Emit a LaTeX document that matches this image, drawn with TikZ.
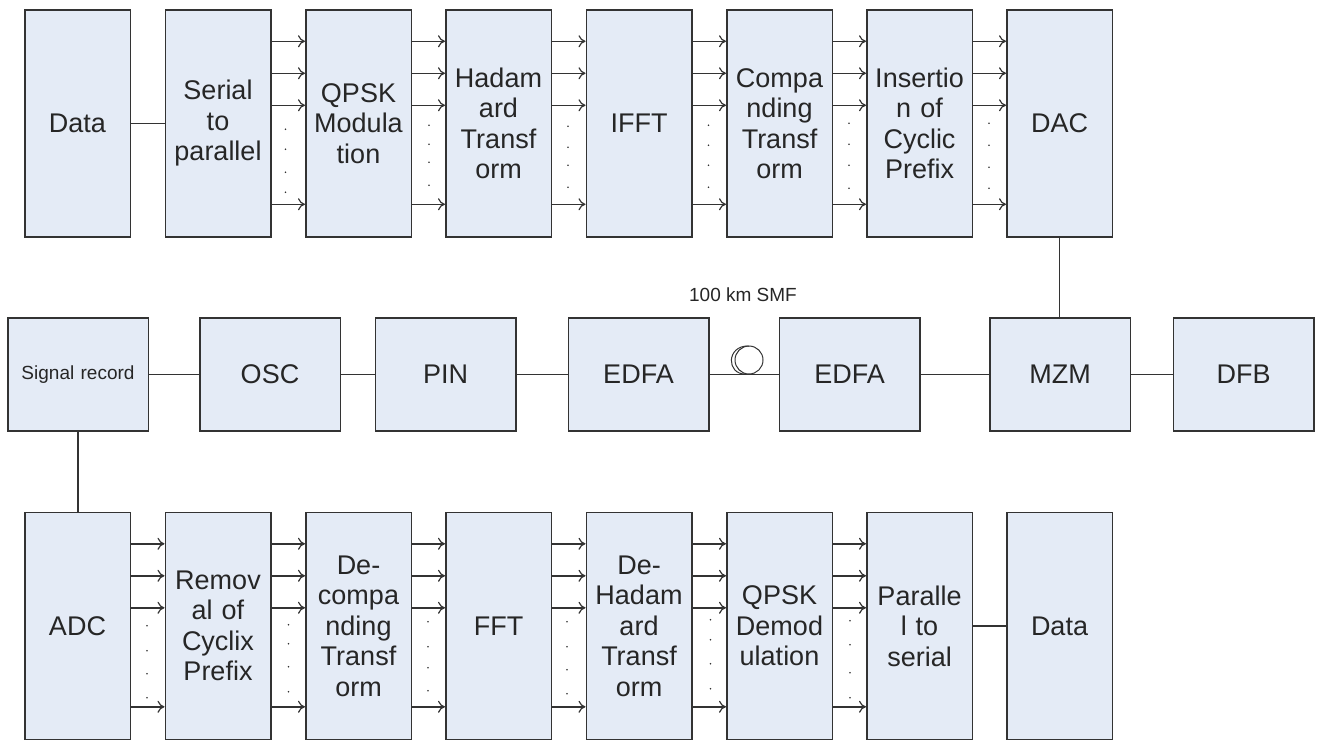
\documentclass[tikz,border=0pt]{standalone}
\usepackage{fontspec}
\setmainfont{Liberation Sans}
\usetikzlibrary{arrows.meta,calc}
\definecolor{boxfill}{HTML}{E4EBF6}
\definecolor{inkline}{HTML}{333333}
\definecolor{inktext}{HTML}{262626}
\tikzset{
  x=1pt,y=-1pt,
  blockbox/.style={draw=inkline,line width=1.5pt,fill=boxfill,text=inktext,align=center,inner sep=0pt,
    font=\fontsize{27}{30.5}\selectfont},
  tall/.style={blockbox,minimum width=105.5pt,minimum height=227pt,text width=105pt},
  wide/.style={blockbox,minimum width=140.5pt,minimum height=113pt,text width=140pt},
  link/.style={draw=inkline,line width=1.5pt},
  arrowlink/.style={link,-{To[length=7pt,width=12pt,line width=1.2pt]}},
  dotmark/.style={fill=inkline,circle,inner sep=0pt,minimum size=1.8pt},
  smalltext/.style={font=\fontsize{19}{22}\selectfont},
  coilline/.style={draw=inkline,line width=1pt},
}
\begin{document}
\begin{tikzpicture}
\useasboundingbox (0,0) rectangle (1321,740);
% top row
\foreach \n/\cx/\t in {a1/77.5/Data,a2/218/{Serial\\to\\parallel},a3/358.5/{QPSK\\Modula\\tion},a4/498.5/{Hadam\\ard\\Transf\\orm},a5/639/IFFT,a6/779.5/{Compa\\nding\\Transf\\orm},a7/919.5/{Insertio\\n of\\Cyclic\\Prefix},a8/1059.5/DAC}
  \node[tall] (\n) at (\cx,123.5) {\t};
% bottom row
\foreach \n/\cx/\t in {c1/77.5/ADC,c2/218/{Remov\\al of\\Cyclix\\Prefix},c3/358.5/{De-\\compa\\nding\\Transf\\orm},c4/498.5/FFT,c5/639/{De-\\Hadam\\ard\\Transf\\orm},c6/779.5/{QPSK\\Demod\\ulation},c7/919.5/{Paralle\\l to\\serial},c8/1059.5/Data}
  \node[tall] (\n) at (\cx,626) {\t};
% middle row
\node[wide,smalltext] (b1) at (78,374.5) {Signal record};
\foreach \n/\cx/\t in {b2/270/OSC,b3/445.5/PIN,b4/638.5/EDFA,b5/849.5/EDFA,b6/1060/MZM,b7/1243.5/DFB}
  \node[wide] (\n) at (\cx,374.5) {\t};
\node[text=inktext,smalltext,inner sep=0pt] (smf) at (743,295) {100 km SMF};
% parallel arrows
\foreach \p/\q in {a2/a3,a3/a4,a4/a5,a5/a6,a6/a7,a7/a8,c1/c2,c2/c3,c3/c4,c4/c5,c5/c6,c6/c7}{
  \foreach \yy in {32,64,96,195}{
    \coordinate (s) at ($(\p.north east)+(0,\yy)$);
    \draw[arrowlink] (s) -- (s -| \q.west);
  }
}
% dots between arrows
\foreach \p/\dx/\da/\db/\dc/\dd in {a2/14/120/140/163/183,a3/17/116/135/153/176,a4/16/117/138/156/178,a5/16/116/136/156/178,a6/16/114/135/156/179,a7/16/114/136/158/179,c1/16/114/139/162/186,c2/17/113/132/155/180,c3/16/110/135/156/179,c4/15/110/135/158/182,c5/18/108/128/152/177,c6/17/109/133/161/186}
  \foreach \yy in {\da,\db,\dc,\dd}
    \node[dotmark] at ($(\p.north east)+(\dx,\yy)$) {};
% single links
\draw[link] (a1) -- (a2);
\draw[link] (c7) -- (c8);
\draw[link] (a8.south) -- (a8.south |- b6.north);
\draw[link] (b1) -- (b2);
\draw[link] (b2) -- (b3);
\draw[link] (b3) -- (b4);
\draw[link] (b4) -- (b5);
\draw[link] (b5) -- (b6);
\draw[link] (b6) -- (b7);
\draw[link] (b1.south) -- (b1.south |- c1.north);
% fibre coil
\draw[coilline] (749,360) circle[radius=14];
\draw[coilline] (749,346) .. controls (726,345) and (726,375) .. (746,374);
\end{tikzpicture}
\end{document}
